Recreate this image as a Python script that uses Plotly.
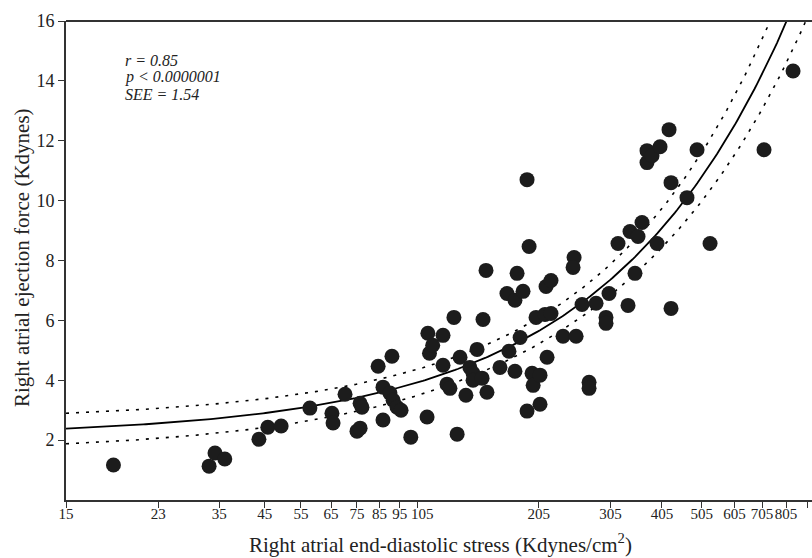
import numpy as np
import plotly.graph_objects as go

# Scatter data: end-diastolic stress (Kdynes/cm^2) vs ejection force (Kdynes)
stress = [19.5, 33.1, 34.2, 36.1, 43.6, 45.8, 49.3, 57.8, 65.3, 65.7,
          70.2, 75.0, 76.3, 76.3, 77.1, 84.3, 86.6, 86.6, 90.0, 91.0,
          91.6, 93.6, 95.7, 101.0, 110.5, 111.0, 112.0, 114.0, 120.7, 120.7,
          123.4, 125.4, 128.2, 130.5, 132.6, 137.0, 140.0, 142.5, 142.5, 145.7,
          149.8, 150.6, 153.1, 153.9, 165.4, 171.9, 173.8, 179.7, 179.7, 181.8,
          184.9, 187.9, 192.1, 192.1, 194.3, 197.5, 198.7, 201.9, 206.4, 206.4,
          212.2, 213.4, 214.6, 219.3, 219.3, 234.4, 249.2, 247.8, 252.0, 260.4,
          270.7, 270.7, 281.4, 297.3, 297.3, 302.3, 317.7, 335.8, 339.5, 349.0,
          354.9, 362.8, 373.0, 373.0, 383.5, 394.2, 400.9, 421.3, 426.0, 426.0,
          465.3, 491.9, 528.6, 712.5, 836.6]
force = [1.17, 1.13, 1.57, 1.37, 2.03, 2.43, 2.47, 3.07, 2.90, 2.57,
         3.53, 2.30, 2.40, 3.23, 3.10, 4.47, 2.67, 3.77, 3.57, 4.80,
         3.33, 3.10, 3.00, 2.10, 2.77, 5.57, 4.90, 5.17, 5.50, 4.50,
         3.87, 3.73, 6.10, 2.20, 4.77, 3.50, 4.43, 4.23, 4.00, 5.03,
         4.07, 6.03, 7.67, 3.60, 4.43, 6.90, 4.97, 6.67, 4.30, 7.57,
         5.43, 6.97, 10.70, 2.97, 8.47, 4.23, 3.83, 6.10, 3.20, 4.17,
         6.20, 7.13, 4.77, 7.33, 6.23, 5.47, 8.10, 7.77, 5.47, 6.53,
         3.93, 3.73, 6.57, 6.10, 5.90, 6.90, 8.57, 6.50, 8.97, 7.57,
         8.80, 9.27, 11.67, 11.27, 11.50, 8.57, 11.80, 12.37, 10.60, 6.40,
         10.10, 11.70, 8.57, 11.70, 14.33]

# Regression (linear in stress, drawn on a log stress axis) and confidence band
intercept = 2.13
slope = 0.01716
band_mean_x = 157.0
band_a = 0.18
band_b = 3.98e-6

x_tick_vals = [15, 25, 35, 45, 55, 65, 75, 85, 95, 105, 205, 305, 405, 505, 605, 705, 805, 905]
x_tick_text = ["15", "23", "35", "45", "55", "65", "75", "85", "95", "", "205", "305",
               "405", "505", "605", "705", "805", ""]
shifted_tick_value = 105
shifted_tick_text = "105"
y_tick_vals = [2, 4, 6, 8, 10, 12, 14, 16]
stats_lines = ["r = 0.85", "p &lt; 0.0000001", "SEE = 1.54"]

x_min, x_max = 15, 929
xs = np.logspace(np.log10(x_min), np.log10(x_max), 300)
fit = intercept + slope * xs
half = np.sqrt(band_a + band_b * (xs - band_mean_x) ** 2)

FONT = "Liberation Serif, Times New Roman, serif"
INK = "#222"
PLOT_H = 479.0
PLOT_W = 746.0

fig = go.Figure()
fig.add_trace(go.Scatter(x=xs, y=fit + half, mode="lines",
                         line=dict(color="black", width=1.6, dash="3px,7px"),
                         hoverinfo="skip", showlegend=False))
fig.add_trace(go.Scatter(x=xs, y=fit - half, mode="lines",
                         line=dict(color="black", width=1.6, dash="3px,7px"),
                         hoverinfo="skip", showlegend=False))
fig.add_trace(go.Scatter(x=xs, y=fit, mode="lines",
                         line=dict(color="black", width=1.8),
                         hoverinfo="skip", showlegend=False))
fig.add_trace(go.Scatter(x=stress, y=force, mode="markers",
                         marker=dict(color="#1c1c1c", size=15, line=dict(width=0)),
                         showlegend=False))

annotations = []
for i, line in enumerate(stats_lines):
    annotations.append(dict(text="<i>" + line + "</i>", xref="paper", yref="paper",
                            x=(123 - 66) / PLOT_W, y=(500 - (60 + 17 * i)) / PLOT_H,
                            xanchor="left", yanchor="middle", align="left", showarrow=False,
                            font=dict(family=FONT, size=16, color=INK)))
annotations.append(dict(text=shifted_tick_text, xref="x", yref="paper",
                        x=np.log10(shifted_tick_value), xshift=5, y=(500 - 514) / PLOT_H,
                        xanchor="center", yanchor="middle", showarrow=False,
                        font=dict(family=FONT, size=15, color=INK)))
annotations.append(dict(text="Right atrial end-diastolic stress (Kdynes/cm<sup>2</sup>)",
                        xref="paper", yref="paper", x=(440 - 66) / PLOT_W, y=(500 - 543) / PLOT_H,
                        xanchor="center", yanchor="middle", showarrow=False,
                        font=dict(family=FONT, size=21, color=INK)))
annotations.append(dict(text="Right atrial ejection force (Kdynes)", textangle=-90,
                        xref="paper", yref="paper", x=(22 - 66) / PLOT_W, y=(500 - 258) / PLOT_H,
                        xanchor="center", yanchor="middle", showarrow=False,
                        font=dict(family=FONT, size=21, color=INK)))

fig.update_layout(
    width=812, height=558,
    margin=dict(l=66, r=0, t=21, b=58, autoexpand=False),
    paper_bgcolor="white", plot_bgcolor="white",
    font=dict(family=FONT, color=INK, size=15),
    xaxis=dict(type="log", range=[np.log10(x_min), np.log10(x_max)],
               tickvals=x_tick_vals, ticktext=x_tick_text, tickangle=0,
               ticks="outside", ticklen=6, tickwidth=1, tickcolor="#333",
               ticklabelstandoff=-7,
               showline=True, linecolor="#333", linewidth=2,
               showgrid=False, zeroline=False, automargin=False,
               tickfont=dict(family=FONT, size=15, color=INK)),
    yaxis=dict(range=[0, 16], tickvals=y_tick_vals,
               ticks="outside", ticklen=6, tickwidth=1, tickcolor="#333",
               showline=True, linecolor="#333", linewidth=2,
               showgrid=False, zeroline=False, automargin=False,
               tickfont=dict(family=FONT, size=18, color=INK)),
    shapes=[dict(type="line", xref="paper", yref="paper", x0=0, x1=1, y0=1, y1=1,
                 line=dict(color="#333", width=2))],
    annotations=annotations,
)

fig.write_html("out.html", config={"displayModeBar": False},
               post_script="document.body.style.margin='0px';")
